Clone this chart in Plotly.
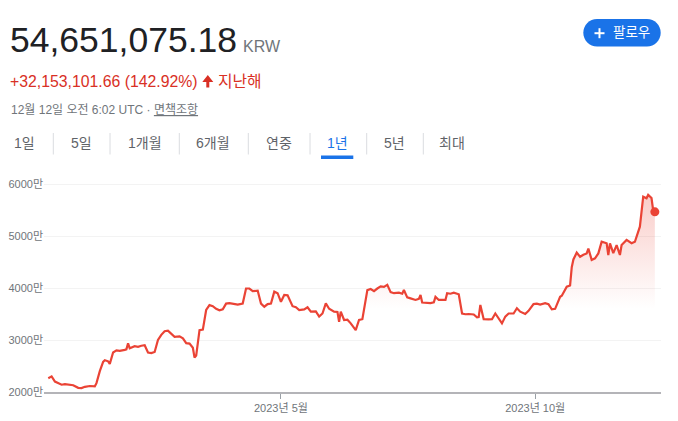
import plotly.graph_objects as go

# ---------------- data (values in 만 KRW) ----------------
dates = [
    "2022-12-12", "2022-12-14", "2022-12-16", "2022-12-18", "2022-12-20", "2022-12-22",
    "2022-12-25", "2022-12-27", "2022-12-30", "2023-01-01", "2023-01-03", "2023-01-06",
    "2023-01-09", "2023-01-10", "2023-01-12", "2023-01-14", "2023-01-15", "2023-01-17",
    "2023-01-18", "2023-01-20", "2023-01-22", "2023-01-24", "2023-01-27", "2023-01-28",
    "2023-01-29", "2023-01-30", "2023-02-02", "2023-02-04", "2023-02-06", "2023-02-08",
    "2023-02-10", "2023-02-12", "2023-02-14", "2023-02-16", "2023-02-18", "2023-02-20",
    "2023-02-22", "2023-02-24", "2023-02-26", "2023-03-01", "2023-03-03", "2023-03-05",
    "2023-03-07", "2023-03-09", "2023-03-10", "2023-03-11", "2023-03-13", "2023-03-15",
    "2023-03-17", "2023-03-19", "2023-03-21", "2023-03-23", "2023-03-25", "2023-03-27",
    "2023-03-29", "2023-03-31", "2023-04-03", "2023-04-05", "2023-04-08", "2023-04-10",
    "2023-04-12", "2023-04-14", "2023-04-17", "2023-04-19", "2023-04-21", "2023-04-23",
    "2023-04-25", "2023-04-27", "2023-04-29", "2023-05-01", "2023-05-03", "2023-05-05",
    "2023-05-08", "2023-05-10", "2023-05-12", "2023-05-15", "2023-05-17", "2023-05-19",
    "2023-05-22", "2023-05-24", "2023-05-26", "2023-05-28", "2023-05-30", "2023-06-02",
    "2023-06-04", "2023-06-05", "2023-06-06", "2023-06-08", "2023-06-10", "2023-06-12",
    "2023-06-15", "2023-06-17", "2023-06-19", "2023-06-22", "2023-06-24", "2023-06-26",
    "2023-06-28", "2023-06-30", "2023-07-02", "2023-07-04", "2023-07-06", "2023-07-08",
    "2023-07-11", "2023-07-13", "2023-07-14", "2023-07-16", "2023-07-18", "2023-07-21",
    "2023-07-23", "2023-07-24", "2023-07-25", "2023-07-28", "2023-07-30", "2023-08-01",
    "2023-08-02", "2023-08-04", "2023-08-06", "2023-08-08", "2023-08-09", "2023-08-11",
    "2023-08-13", "2023-08-16", "2023-08-18", "2023-08-20", "2023-08-22", "2023-08-25",
    "2023-08-27", "2023-08-28", "2023-08-29", "2023-08-31", "2023-09-03", "2023-09-05",
    "2023-09-07", "2023-09-09", "2023-09-11", "2023-09-13", "2023-09-15", "2023-09-18",
    "2023-09-20", "2023-09-22", "2023-09-25", "2023-09-27", "2023-09-30", "2023-10-02",
    "2023-10-04", "2023-10-07", "2023-10-09", "2023-10-11", "2023-10-13", "2023-10-16",
    "2023-10-17", "2023-10-20", "2023-10-22", "2023-10-23", "2023-10-24", "2023-10-26",
    "2023-10-28", "2023-10-30", "2023-11-01", "2023-11-02", "2023-11-04", "2023-11-06",
    "2023-11-08", "2023-11-10", "2023-11-13", "2023-11-14", "2023-11-15", "2023-11-17",
    "2023-11-19", "2023-11-21", "2023-11-22", "2023-11-25", "2023-11-28", "2023-11-30",
    "2023-12-02", "2023-12-03", "2023-12-05", "2023-12-07", "2023-12-08", "2023-12-09",
    "2023-12-10", "2023-12-11", "2023-12-12",
]
prices = [
    2265, 2300, 2200, 2170, 2140, 2150,
    2135, 2130, 2080, 2075, 2100, 2115,
    2110, 2170, 2400, 2580, 2610, 2590,
    2540, 2760, 2800, 2790, 2810, 2820,
    2935, 2840, 2880, 2870, 2890, 2900,
    2760, 2750, 2770, 3000, 3100, 3170,
    3180, 3120, 3060, 3070, 3030, 2940,
    2930, 2850, 2660, 2700, 3190, 3200,
    3577, 3670, 3650, 3600, 3570, 3590,
    3700, 3710, 3690, 3680, 3700, 3990,
    3990, 3940, 3950, 3700, 3640, 3690,
    3700, 3930, 3900, 3735, 3865, 3860,
    3650, 3630, 3577, 3590, 3630, 3545,
    3550, 3450, 3510, 3705, 3600, 3545,
    3540, 3350, 3545, 3385, 3390, 3320,
    3190, 3385, 3400, 3960, 3980, 3940,
    3990, 4030, 4020, 4060, 3920, 3900,
    3910, 3890, 3960, 3820, 3800, 3770,
    3790, 3865, 3720, 3720, 3710, 3725,
    3830, 3770, 3775, 3770, 3900, 3890,
    3910, 3880, 3510, 3495, 3500, 3490,
    3435, 3440, 3675, 3400, 3395, 3400,
    3510, 3420, 3320, 3450, 3510, 3510,
    3610, 3545, 3500, 3560, 3690, 3700,
    3680, 3710, 3690, 3590, 3600, 3830,
    3850, 4025, 4050, 4400, 4550, 4680,
    4600, 4640, 4665, 4760, 4540, 4570,
    4665, 4890, 4860, 4635, 4860, 4670,
    4825, 4635, 4825, 4925, 4860, 4890,
    5115, 5180, 5755, 5725, 5790, 5760,
    5730, 5490, 5465,
]
y_tick_vals = [2000, 3000, 4000, 5000, 6000]
y_tick_text = ["2000만", "3000만", "4000만", "5000만", "6000만"]
x_tick_vals = ["2023-05-01", "2023-10-01"]
x_tick_text = ["2023년 5월", "2023년 10월"]
tabs = ["1일", "5일", "1개월", "6개월", "연중", "1년", "5년", "최대"]

price_text = "54,651,075.18"
currency = "KRW"
change_text = "+32,153,101.66 (142.92%)"
period_text = "지난해"
date_text = "12월 12일 오전 6:02 UTC · <u>면책조항</u>"
follow_text = "팔로우"

# ---------------- layout helpers ----------------
W, H = 678, 421
ML, MR, MT, MB = 44, 17, 180, 29
PW, PH = W - ML - MR, H - MT - MB


def X(px):
    return (px - ML) / PW


def Y(py):
    return 1 - (py - MT) / PH


FONT = "Arial, 'Liberation Sans', 'Noto Sans CJK KR', sans-serif"
RED = "#ea4335"
TXT_RED = "#d93025"
GRAY = "#70757a"
BLUE = "#1a73e8"

fig = go.Figure()
fig.add_trace(go.Scatter(
    x=dates, y=prices, mode="lines",
    line=dict(color=RED, width=2.2),
    fill="tozeroy",
    fillgradient=dict(type="vertical",
                      colorscale=[[0, "rgba(234,67,53,0)"], [1, "rgba(234,67,53,0.28)"]],
                      start=3600, stop=5900),
    hoverinfo="skip", showlegend=False,
))
fig.add_trace(go.Scatter(
    x=[dates[-1]], y=[prices[-1]], mode="markers",
    marker=dict(color=RED, size=9),
    hoverinfo="skip", showlegend=False,
))

annotations = []


def add_text(text, px, py, size, color, anchor="left"):
    annotations.append(dict(
        text=text, x=X(px), y=Y(py), xref="paper", yref="paper",
        xanchor=anchor, yanchor="middle", showarrow=False, borderpad=0,
        font=dict(family=FONT, size=size, color=color),
    ))


add_text(price_text, 9, 40.5, 35.5, "#202124")
add_text(currency, 242, 46.5, 16, GRAY)
add_text(change_text, 9, 81.5, 15.8, TXT_RED)
add_text(period_text, 216.5, 81.5, 15.8, TXT_RED)
add_text(date_text, 10, 110, 12, GRAY)
add_text(follow_text, 612, 32.5, 13.5, "#ffffff")

tab_centers = [24.5, 81.5, 145, 213, 279, 337.5, 394, 452]
for t, cx in zip(tabs, tab_centers):
    add_text(t, cx, 143.5, 14, BLUE if t == "1년" else "#5f6368", anchor="center")

shapes = []
# up arrow
arrow = [(202.3, 82), (207.8, 75), (213.3, 82), (209.3, 82), (209.3, 87.5),
         (206.3, 87.5), (206.3, 82)]
shapes.append(dict(type="path", xref="paper", yref="paper",
                   path="M " + " L ".join(f"{X(a)},{Y(b)}" for a, b in arrow) + " Z",
                   fillcolor=TXT_RED, line=dict(width=0)))

# follow pill
x0, x1, y0, y1 = 583.3, 660.7, 19, 46.5
r = (y1 - y0) / 2
k = 0.5523 * r


def P(a, b):
    return f"{X(a)},{Y(b)}"


pill = (f"M {P(x0 + r, y0)} L {P(x1 - r, y0)} "
        f"C {P(x1 - r + k, y0)} {P(x1, y0 + r - k)} {P(x1, y0 + r)} "
        f"C {P(x1, y1 - r + k)} {P(x1 - r + k, y1)} {P(x1 - r, y1)} "
        f"L {P(x0 + r, y1)} "
        f"C {P(x0 + r - k, y1)} {P(x0, y1 - r + k)} {P(x0, y1 - r)} "
        f"C {P(x0, y0 + r - k)} {P(x0 + r - k, y0)} {P(x0 + r, y0)} Z")
shapes.append(dict(type="path", xref="paper", yref="paper", path=pill,
                   fillcolor=BLUE, line=dict(width=0)))
# plus sign
shapes.append(dict(type="line", xref="paper", yref="paper",
                   x0=X(594.5), x1=X(604.5), y0=Y(33.2), y1=Y(33.2),
                   line=dict(color="white", width=2)))
shapes.append(dict(type="line", xref="paper", yref="paper",
                   x0=X(599.5), x1=X(599.5), y0=Y(28.2), y1=Y(38.2),
                   line=dict(color="white", width=2)))

# tab separators
for sx in [53.3, 110, 179.3, 248.3, 310, 366.7, 423.3]:
    shapes.append(dict(type="line", xref="paper", yref="paper",
                       x0=X(sx), x1=X(sx), y0=Y(133), y1=Y(154.5),
                       line=dict(color="#dadce0", width=1)))
# active tab underline
shapes.append(dict(type="rect", xref="paper", yref="paper",
                   x0=X(321), x1=X(353.3), y0=Y(155.5), y1=Y(159),
                   fillcolor=BLUE, line=dict(width=0)))

fig.update_layout(
    width=W, height=H,
    margin=dict(l=ML, r=MR, t=MT, b=MB),
    paper_bgcolor="white", plot_bgcolor="white",
    font=dict(family=FONT, color=GRAY),
    annotations=annotations, shapes=shapes,
    xaxis=dict(
        range=["2022-12-09 10:00", "2023-12-15 17:00"],
        tickvals=x_tick_vals, ticktext=x_tick_text,
        showgrid=False, zeroline=False, automargin=False,
        showline=True, linecolor="#b4b4b8", linewidth=2,
        ticks="outside", ticklen=5, tickcolor="#9aa0a6", tickwidth=1,
        tickfont=dict(size=11, color=GRAY),
        fixedrange=True,
    ),
    yaxis=dict(
        range=[2000, 6077],
        tickvals=y_tick_vals, ticktext=y_tick_text,
        showgrid=True, gridcolor="#f3f3f3", gridwidth=1,
        zeroline=False, showline=False, ticks="", automargin=False,
        tickfont=dict(size=11, color=GRAY),
        fixedrange=True,
    ),
)

fig.write_html("out.html", config={"displayModeBar": False})
